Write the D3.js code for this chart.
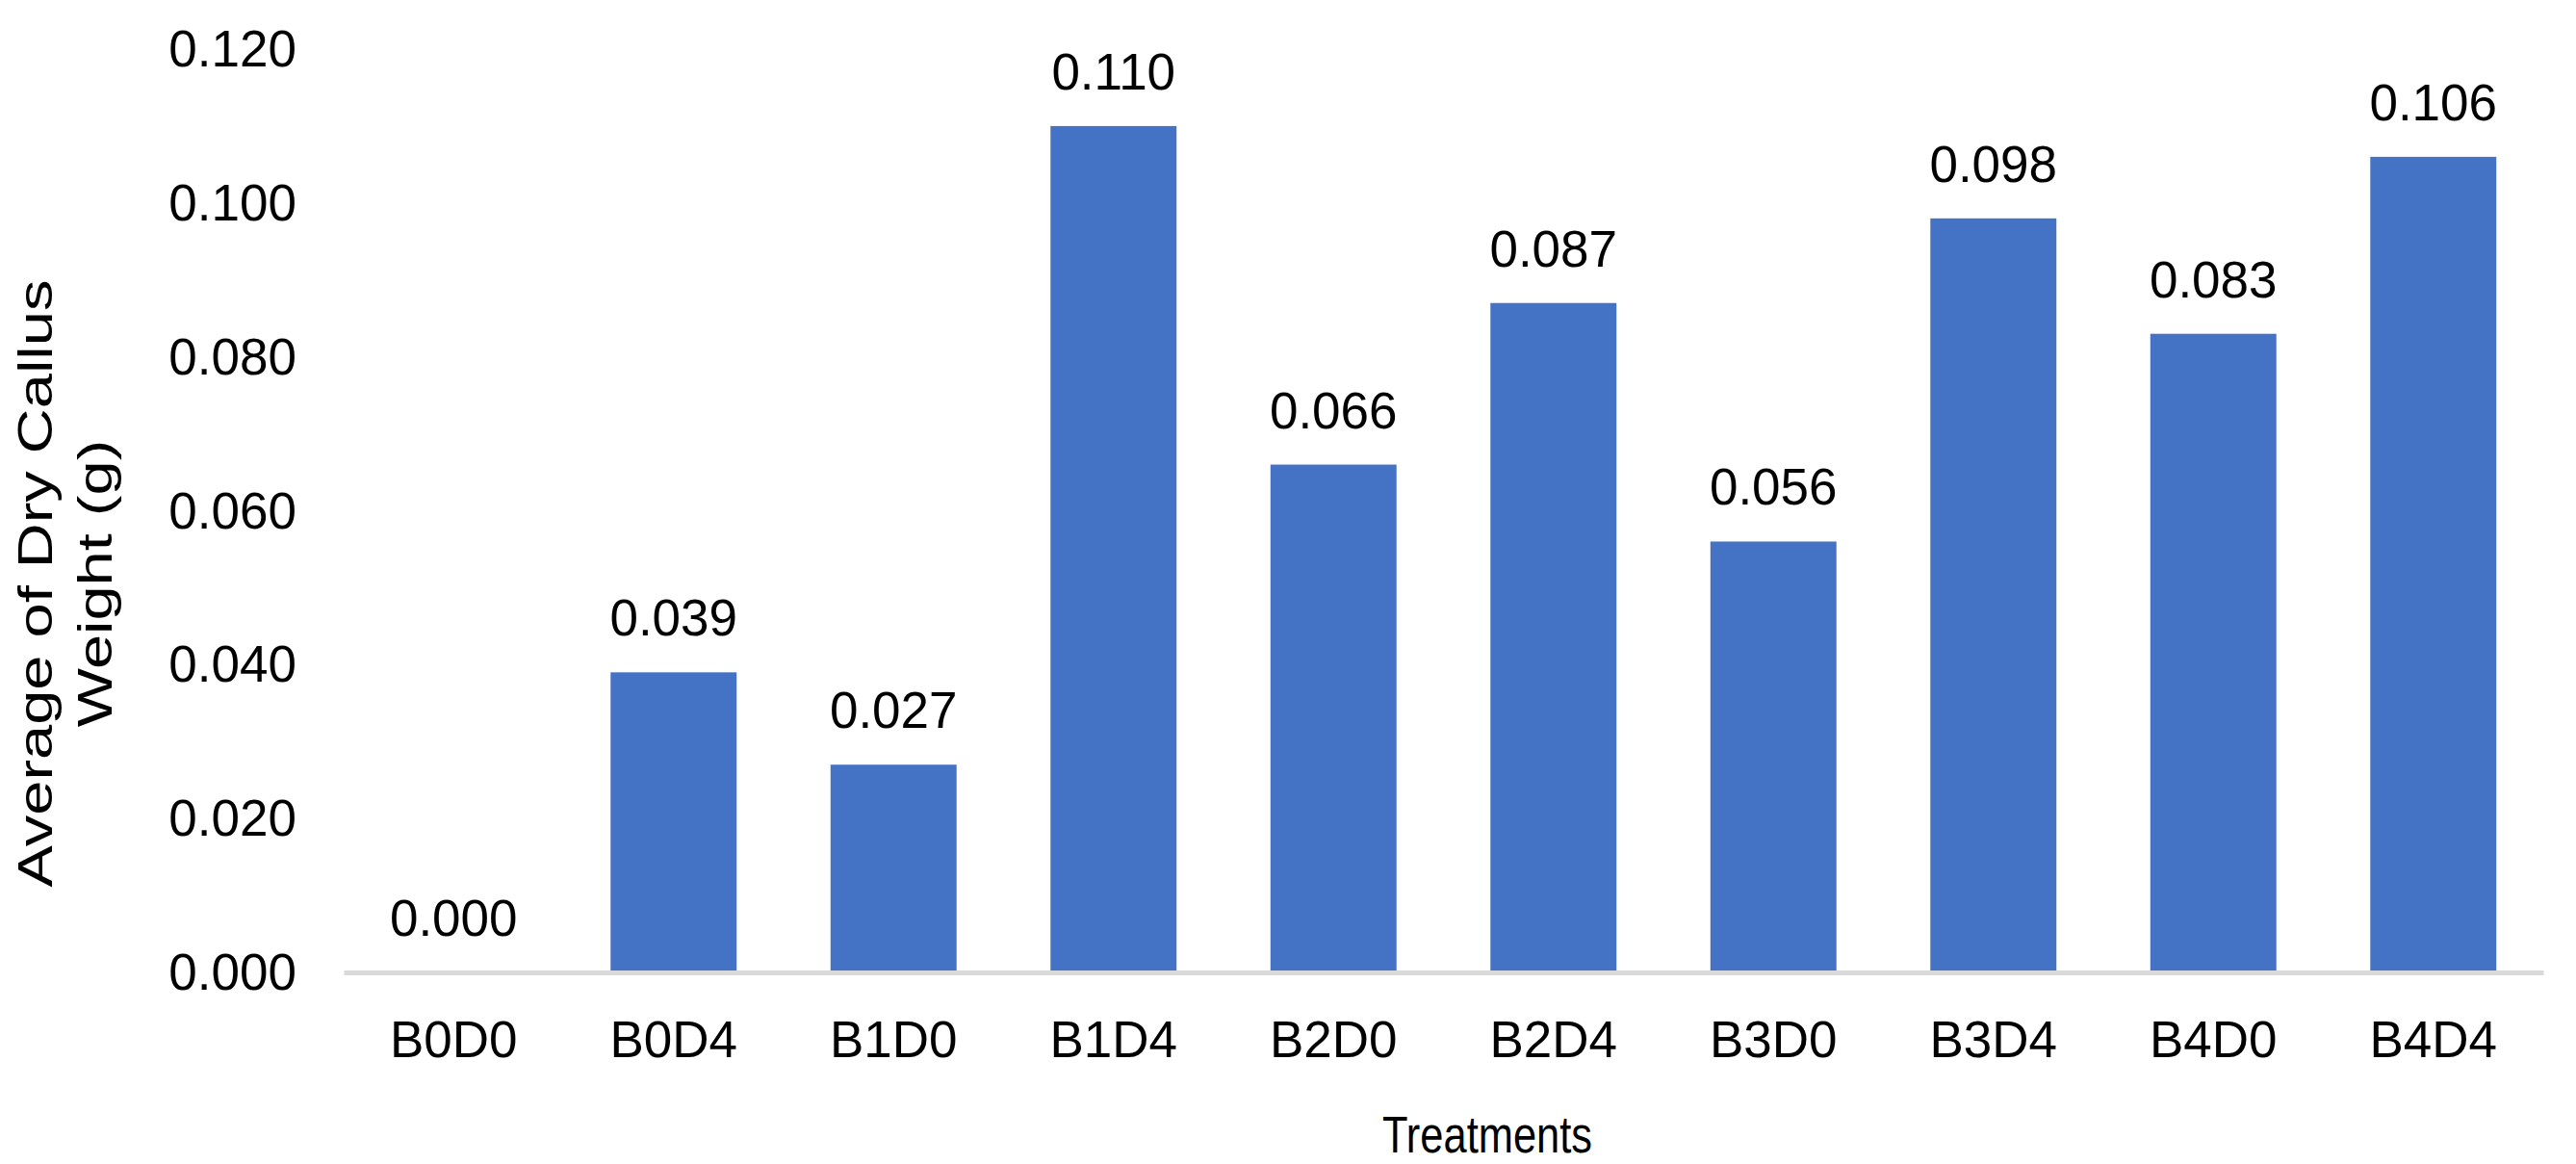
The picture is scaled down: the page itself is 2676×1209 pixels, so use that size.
<!DOCTYPE html>
<html>
<head>
<meta charset="utf-8">
<script src="https://cdn.jsdelivr.net/npm/d3@7"></script>
<style>
  body { margin: 0; background: #fff; }
  text { font-family: "Liberation Sans", Arial, sans-serif; fill: #000; }
</style>
</head>
<body>
<svg id="chart" width="2676" height="1209"></svg>
<script>
var treatments = ["B0D0", "B0D4", "B1D0", "B1D4", "B2D0", "B2D4", "B3D0", "B3D4", "B4D0", "B4D4"];
var dryWeight = [0.000, 0.039, 0.027, 0.110, 0.066, 0.087, 0.056, 0.098, 0.083, 0.106];
var yTicks = [0, 0.02, 0.04, 0.06, 0.08, 0.1, 0.12];

var data = treatments.map(function(t, i) { return {name: t, value: dryWeight[i]}; });

var svg = d3.select("#chart");
var fontSize = 53;

var x = d3.scaleBand()
    .domain(treatments)
    .range([357, 2642])
    .paddingInner(0.427)
    .paddingOuter(0.2135);

var y = d3.scaleLinear()
    .domain([0, 0.12])
    .range([1010, 51]);

// y tick labels, no axis line
var yAxis = svg.append("g")
    .attr("transform", "translate(308,0)")
    .call(d3.axisLeft(y).tickValues(yTicks).tickFormat(d3.format(".3f")).tickSize(0).tickPadding(0));
yAxis.select(".domain").remove();
yAxis.selectAll("text")
    .style("font-size", fontSize + "px")
    .attr("dy", "0.33em");

// bars
svg.selectAll(".bar")
    .data(data)
  .enter().append("rect")
    .attr("class", "bar")
    .attr("x", function(d) { return x(d.name); })
    .attr("y", function(d) { return y(d.value); })
    .attr("width", x.bandwidth())
    .attr("height", function(d) { return y(0) - y(d.value); })
    .attr("fill", "#4472C4");

// x axis
var xAxis = svg.append("g")
    .attr("transform", "translate(0," + y(0) + ")")
    .call(d3.axisBottom(x).tickSize(0).tickPadding(0));
xAxis.select(".domain")
    .attr("stroke", "#D9D9D9")
    .attr("stroke-width", 5);
xAxis.selectAll("text")
    .style("font-size", fontSize + "px")
    .attr("dy", null)
    .attr("y", 88);

// value labels
svg.selectAll(".val")
    .data(data)
  .enter().append("text")
    .attr("class", "val")
    .attr("x", function(d) { return x(d.name) + x.bandwidth() / 2; })
    .attr("y", function(d) { return y(d.value) - 38; })
    .attr("text-anchor", "middle")
    .style("font-size", fontSize + "px")
    .text(function(d) { return d3.format(".3f")(d.value); });

// axis titles (the source image is a little squashed / stretched here)
svg.append("text")
    .attr("transform", "translate(1545,1197) scale(0.82,1)")
    .attr("text-anchor", "middle")
    .style("font-size", fontSize + "px")
    .text("Treatments");

var yTitle = svg.append("text")
    .attr("transform", "translate(0,606) rotate(-90) scale(1.3,1)")
    .attr("text-anchor", "middle")
    .style("font-size", "50px");
yTitle.append("tspan").attr("x", 0).attr("y", 54).text("Average of Dry Callus");
yTitle.append("tspan").attr("x", 0).attr("y", 116).text("Weight (g)");
</script>
</body>
</html>
